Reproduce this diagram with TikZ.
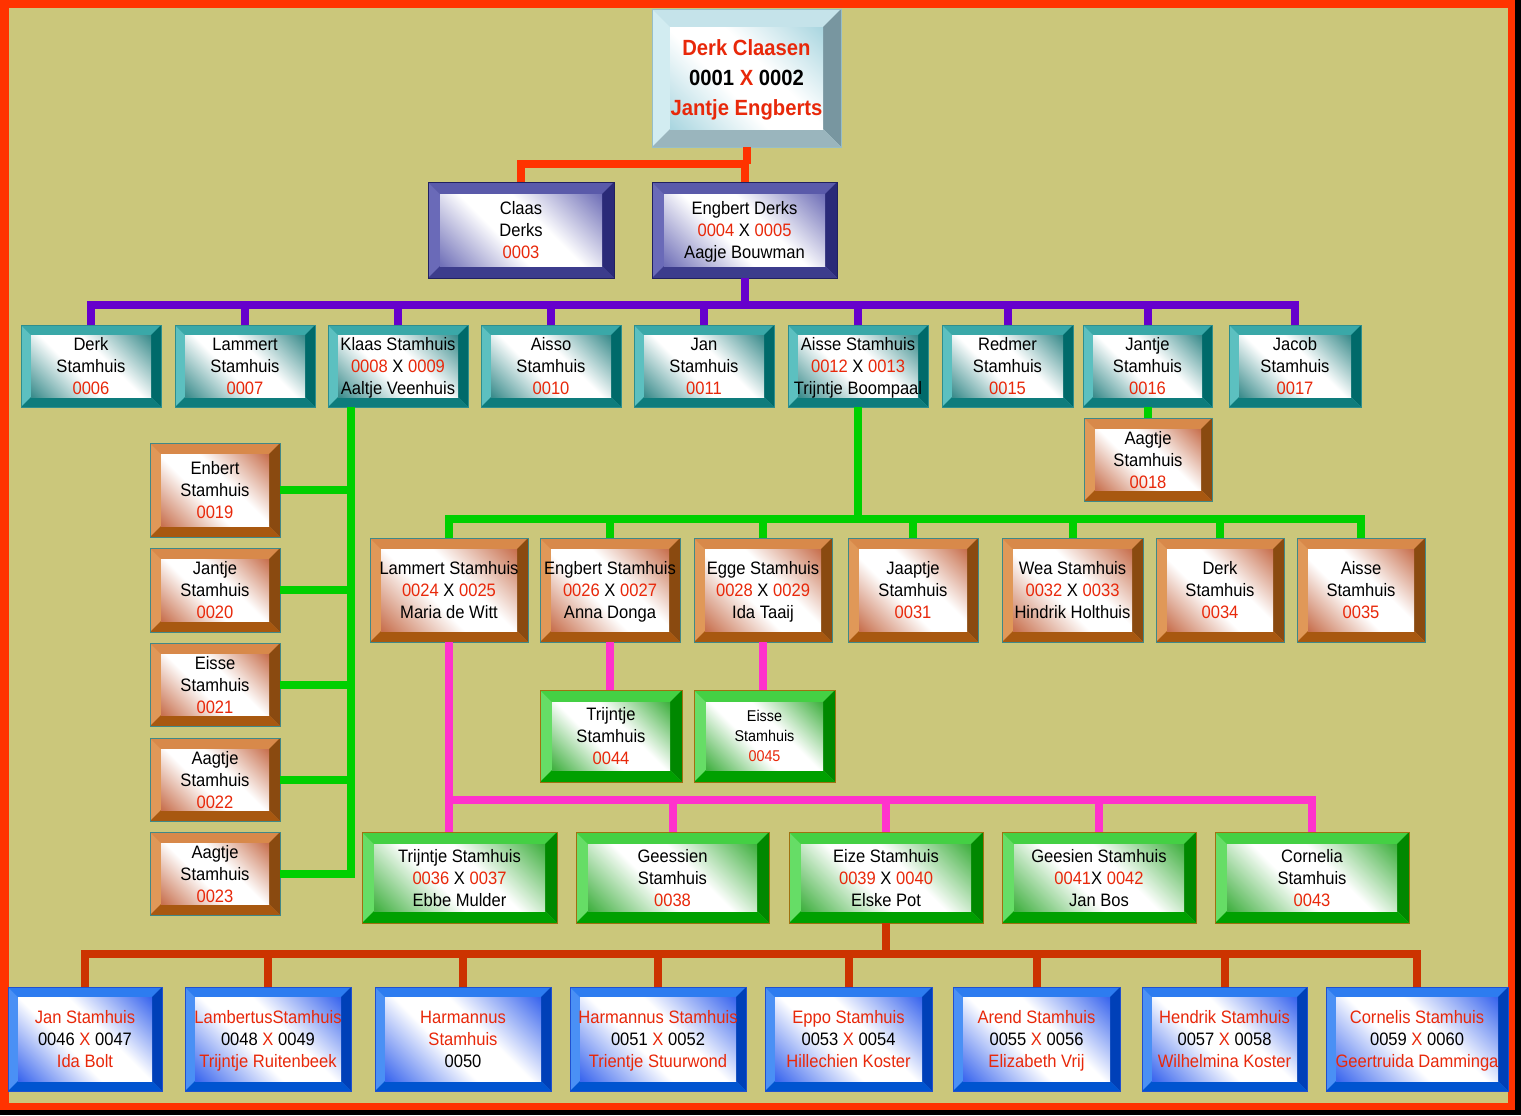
\documentclass[tikz,border=0pt]{standalone}
\usepackage{fontspec}
\setmainfont{Liberation Sans}[FakeStretch=0.92]
\usepackage{xcolor}
\usepackage{tikz}

\definecolor{bgolive}{RGB}{203,199,123}
\definecolor{framered}{RGB}{255,51,0}
\definecolor{nrred}{RGB}{232,40,10}
\definecolor{cPurple}{RGB}{102,0,204}
\definecolor{cGreen}{RGB}{0,208,0}
\definecolor{cPink}{RGB}{255,51,204}
\definecolor{cRust}{RGB}{204,51,0}
% bevel colours: T top, L left, R right, B bottom, F face tint, E edge
\definecolor{rootT}{RGB}{197,227,234}\definecolor{rootL}{RGB}{210,236,241}
\definecolor{rootR}{RGB}{120,150,160}\definecolor{rootB}{RGB}{154,181,189}
\definecolor{rootF}{RGB}{170,214,224}\definecolor{rootE}{RGB}{150,190,200}
\definecolor{navyT}{RGB}{90,90,170}\definecolor{navyL}{RGB}{106,106,184}
\definecolor{navyR}{RGB}{42,42,120}\definecolor{navyB}{RGB}{60,60,140}
\definecolor{navyF}{RGB}{112,112,184}\definecolor{navyE}{RGB}{32,32,96}
\definecolor{tealT}{RGB}{58,168,168}\definecolor{tealL}{RGB}{92,192,192}
\definecolor{tealR}{RGB}{0,106,106}\definecolor{tealB}{RGB}{14,124,124}
\definecolor{tealF}{RGB}{58,140,140}\definecolor{tealE}{RGB}{46,142,142}
\definecolor{brownT}{RGB}{216,137,74}\definecolor{brownL}{RGB}{224,152,88}
\definecolor{brownR}{RGB}{138,74,16}\definecolor{brownB}{RGB}{168,88,16}
\definecolor{brownF}{RGB}{200,112,78}\definecolor{brownE}{RGB}{64,136,136}
\definecolor{greenT}{RGB}{68,208,68}\definecolor{greenL}{RGB}{102,221,102}
\definecolor{greenR}{RGB}{0,136,0}\definecolor{greenB}{RGB}{0,160,0}
\definecolor{greenF}{RGB}{64,176,64}\definecolor{greenE}{RGB}{160,112,16}
\definecolor{blueT}{RGB}{45,124,240}\definecolor{blueL}{RGB}{74,144,245}
\definecolor{blueR}{RGB}{0,64,184}\definecolor{blueB}{RGB}{0,84,208}
\definecolor{blueF}{RGB}{58,102,238}\definecolor{blueE}{RGB}{32,80,208}
\colorlet{facetint}{white}

\def\bwroot{18}\def\bwnavy{12}\def\bwteal{10}
\def\bwbrown{11}\def\bwgreen{12}\def\bwblue{10}

\pgfdeclarehorizontalshading[facetint]{cardface}{100bp}{color(0bp)=(facetint);
  color(15bp)=(facetint); color(42bp)=(white); color(58bp)=(white);
  color(85bp)=(facetint); color(100bp)=(facetint)}

\newcommand\nr[1]{\textcolor{nrred}{#1}}
% [node options]{name}{family}{x1}{y1}{x2}{y2}{text}
\newcommand\card[8][]{%
  \edef\cardw{\csname bw#3\endcsname}%
  \fill[#3L] (#4,#5) rectangle (#6,#7);
  \fill[#3T] (#4,#5) -- (#6,#5) -- (#6-\cardw,#5+\cardw) -- (#4+\cardw,#5+\cardw) -- cycle;
  \fill[#3R] (#6,#5) -- (#6,#7) -- (#6-\cardw,#7-\cardw) -- (#6-\cardw,#5+\cardw) -- cycle;
  \fill[#3B] (#4,#7) -- (#6,#7) -- (#6-\cardw,#7-\cardw) -- (#4+\cardw,#7-\cardw) -- cycle;
  \colorlet{facetint}{#3F}%
  \shade[shading=cardface,shading angle=45] (#4+\cardw,#5+\cardw) rectangle (#6-\cardw,#7-\cardw);
  \draw[#3E,line width=0.6pt] (#4,#5) rectangle (#6,#7);
  \node[cardtext,minimum width={(#6-#4)*0.75pt},minimum height={(#7-#5)*0.75pt},#1]
    (#2) at ({(#4+#6)/2},{(#5+#7)/2}) {#8};
}

\tikzset{
  cardtext/.style={inner sep=0pt,outer sep=0pt,align=center,
    font=\fontsize{13.5}{16.5}\selectfont,
    execute at begin node=\strut, execute at end node=\strut,
    text depth=0pt},
  redline/.style={draw=framered,line width=6pt},
  purpline/.style={draw=cPurple,line width=6pt},
  greenline/.style={draw=cGreen,line width=6pt},
  pinkline/.style={draw=cPink,line width=6pt},
  rustline/.style={draw=cRust,line width=6pt}
}

\begin{document}
\begin{tikzpicture}[x=0.75pt,y=-0.75pt]
  % frame
  \fill[black] (0,0) rectangle (1521,1115);
  \fill[framered] (0,0) rectangle (1515,1110);
  \fill[bgolive] (9,8) rectangle (1508,1103);

  % generation 1 and 2
  \card[font=\bfseries\fontsize{16.5}{22.5}\selectfont]{root}{root}{652}{9}{841}{147}
    {\nr{Derk Claasen}\\0001 \nr{X} 0002\\\nr{Jantje Engberts}}
  \card{claas}{navy}{428}{182}{614}{278}{Claas\\Derks\\\nr{0003}}
  \card{engb}{navy}{652}{182}{837}{278}{Engbert Derks\\\nr{0004} X \nr{0005}\\Aagje Bouwman}

  % generation 3
  \card{derk6}{teal}{21}{325}{161}{407}{Derk\\Stamhuis\\\nr{0006}}
  \card{lam7}{teal}{175}{325}{315}{407}{Lammert\\Stamhuis\\\nr{0007}}
  \card{klaas8}{teal}{328}{325}{468}{407}{Klaas Stamhuis\\\nr{0008} X \nr{0009}\\Aaltje Veenhuis}
  \card{aisso10}{teal}{481}{325}{621}{407}{Aisso\\Stamhuis\\\nr{0010}}
  \card{jan11}{teal}{634}{325}{774}{407}{Jan\\Stamhuis\\\nr{0011}}
  \card{aisse12}{teal}{788}{325}{928}{407}{Aisse Stamhuis\\\nr{0012} X \nr{0013}\\Trijntje Boompaal}
  \card{redm15}{teal}{942}{325}{1073}{407}{Redmer\\Stamhuis\\\nr{0015}}
  \card{jant16}{teal}{1083}{325}{1212}{407}{Jantje\\Stamhuis\\\nr{0016}}
  \card{jacob17}{teal}{1229}{325}{1361}{407}{Jacob\\Stamhuis\\\nr{0017}}
  \card{aag18}{brown}{1084}{418}{1212}{501}{Aagtje\\Stamhuis\\\nr{0018}}

  % children of Klaas
  \card{enb19}{brown}{150}{443}{280}{537}{Enbert\\Stamhuis\\\nr{0019}}
  \card{jant20}{brown}{150}{548}{280}{632}{Jantje\\Stamhuis\\\nr{0020}}
  \card{eis21}{brown}{150}{643}{280}{726}{Eisse\\Stamhuis\\\nr{0021}}
  \card{aag22}{brown}{150}{738}{280}{821}{Aagtje\\Stamhuis\\\nr{0022}}
  \card{aag23}{brown}{150}{832}{280}{915}{Aagtje\\Stamhuis\\\nr{0023}}

  % children of Aisse
  \card{lam24}{brown}{370}{538}{528}{642}{Lammert Stamhuis\\\nr{0024} X \nr{0025}\\Maria de Witt}
  \card{eng26}{brown}{540}{538}{680}{642}{Engbert Stamhuis\\\nr{0026} X \nr{0027}\\Anna Donga}
  \card{egge28}{brown}{694}{538}{832}{642}{Egge Stamhuis\\\nr{0028} X \nr{0029}\\Ida Taaij}
  \card{jaap31}{brown}{848}{538}{978}{642}{Jaaptje\\Stamhuis\\\nr{0031}}
  \card{wea32}{brown}{1002}{538}{1143}{642}{Wea Stamhuis\\\nr{0032} X \nr{0033}\\Hindrik Holthuis}
  \card{derk34}{brown}{1156}{538}{1284}{642}{Derk\\Stamhuis\\\nr{0034}}
  \card{aisse35}{brown}{1297}{538}{1425}{642}{Aisse\\Stamhuis\\\nr{0035}}

  \card{trij44}{green}{540}{690}{682}{782}{Trijntje\\Stamhuis\\\nr{0044}}
  \card[font=\fontsize{11.7}{15}\selectfont]{eis45}{green}{694}{690}{835}{782}{Eisse\\Stamhuis\\\nr{0045}}

  % children of Lammert
  \card{trij36}{green}{362}{832}{557}{923}{Trijntje Stamhuis\\\nr{0036} X \nr{0037}\\Ebbe Mulder}
  \card{gees38}{green}{576}{832}{769}{923}{Geessien\\Stamhuis\\\nr{0038}}
  \card{eize39}{green}{789}{832}{983}{923}{Eize Stamhuis\\\nr{0039} X \nr{0040}\\Elske Pot}
  \card{gees41}{green}{1002}{832}{1196}{923}{Geesien Stamhuis\\\nr{0041}X \nr{0042}\\Jan Bos}
  \card{corn43}{green}{1215}{832}{1409}{923}{Cornelia\\Stamhuis\\\nr{0043}}

  % children of Eize
  \card{jan46}{blue}{8}{987}{162}{1091}{\nr{Jan Stamhuis}\\0046 \nr{X} 0047\\\nr{Ida Bolt}}
  \card{lamb48}{blue}{185}{987}{351}{1091}{\nr{LambertusStamhuis}\\0048 \nr{X} 0049\\\nr{Trijntje Ruitenbeek}}
  \card{harm50}{blue}{375}{987}{551}{1091}{\nr{Harmannus}\\\nr{Stamhuis}\\0050}
  \card{harm51}{blue}{570}{987}{746}{1091}{\nr{Harmannus Stamhuis}\\0051 \nr{X} 0052\\\nr{Trientje Stuurwond}}
  \card{eppo53}{blue}{765}{987}{932}{1091}{\nr{Eppo Stamhuis}\\0053 \nr{X} 0054\\\nr{Hillechien Koster}}
  \card{arend55}{blue}{953}{987}{1120}{1091}{\nr{Arend Stamhuis}\\0055 \nr{X} 0056\\\nr{Elizabeth Vrij}}
  \card{hend57}{blue}{1142}{987}{1307}{1091}{\nr{Hendrik Stamhuis}\\0057 \nr{X} 0058\\\nr{Wilhelmina Koster}}
  \card{corn59}{blue}{1326}{987}{1508}{1091}{\nr{Cornelis Stamhuis}\\0059 \nr{X} 0060\\\nr{Geertruida Damminga}}

  % connectors
  \coordinate (topbus) at (746.5,164);
  \draw[redline] (root.south) -- (topbus);
  \draw[redline] (topbus) -| (claas.north);
  \draw[redline] (topbus) -| (engb.north);

  \coordinate (purpbus) at (744.5,305);
  \draw[purpline] (engb.south) -- (purpbus);
  \foreach \n in {derk6,lam7,klaas8,aisso10,jan11,aisse12,redm15,jant16,jacob17}
    \draw[purpline] (purpbus) -| (\n.north);

  \draw[greenline] (jant16.south) -- (jant16.south |- aag18.north);

  \coordinate (klaasfoot) at (351,407);
  \draw[greenline] (klaasfoot) |- (aag23.east);
  \foreach \n in {enb19,jant20,eis21,aag22}
    \draw[greenline] (\n.east) -- (\n.east -| klaasfoot);

  \coordinate (greenbus) at (858,519);
  \draw[greenline] (aisse12.south) -- (greenbus);
  \foreach \n in {lam24,eng26,egge28,jaap31,wea32,derk34,aisse35}
    \draw[greenline] (greenbus) -| (\n.north);

  \draw[pinkline] (eng26.south) -- (eng26.south |- trij44.north);
  \draw[pinkline] (egge28.south) -- (egge28.south |- eis45.north);

  \coordinate (pinkbus) at (449,800);
  \draw[pinkline] (lam24.south) -- (lam24.south |- trij36.north);
  \foreach \n in {gees38,eize39,gees41,corn43}
    \draw[pinkline] (pinkbus) -| (\n.north);

  \coordinate (rustbus) at (886,954);
  \draw[rustline] (eize39.south) -- (rustbus);
  \foreach \n in {jan46,lamb48,harm50,harm51,eppo53,arend55,hend57,corn59}
    \draw[rustline] (rustbus) -| (\n.north);
\end{tikzpicture}
\end{document}
